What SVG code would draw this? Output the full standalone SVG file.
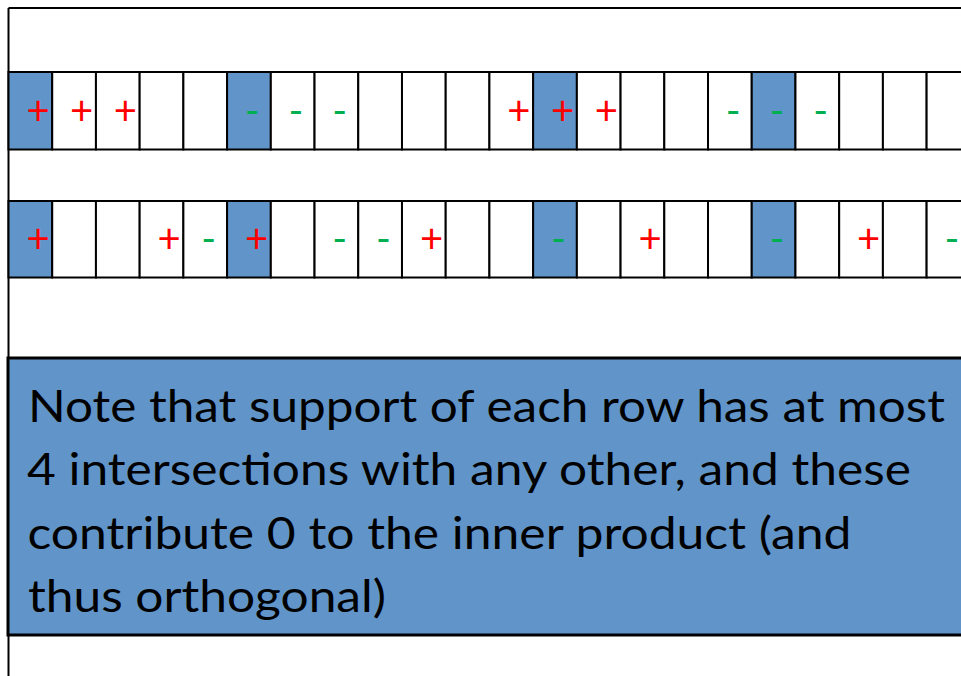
<svg xmlns="http://www.w3.org/2000/svg" width="961" height="676" viewBox="0 0 961 676">
<style>
.cell{fill:#ffffff;stroke:#000;stroke-width:2}
.hl{fill:#6195c9;stroke:#000;stroke-width:2}
.p{font-family:Lato,"Liberation Sans",sans-serif;font-size:40px;fill:#ff0000;text-anchor:middle}
.m{font-family:Lato,"Liberation Sans",sans-serif;font-size:40px;fill:#00b050;text-anchor:middle}
.note{font-family:Lato,"Open Sans","Liberation Sans",sans-serif;font-size:44px;fill:#000}
</style>
<rect x="0" y="0" width="961" height="676" fill="#ffffff"/>
<g id="frame" fill="none" stroke="#000" stroke-width="2">
<line x1="8.5" y1="8" x2="961" y2="8"/>
<line x1="8.5" y1="8" x2="8.5" y2="676"/>
</g>
<g id="connectors"/>
<g id="row1">
<g id="r1c0"><rect class="hl" x="8.50" y="72" width="43.72" height="77.5"/><text class="p" x="38.00" y="125">+</text></g>
<g id="r1c1"><rect class="cell" x="52.22" y="72" width="43.72" height="77.5"/><text class="p" x="81.72" y="125">+</text></g>
<g id="r1c2"><rect class="cell" x="95.94" y="72" width="43.72" height="77.5"/><text class="p" x="125.44" y="125">+</text></g>
<g id="r1c3"><rect class="cell" x="139.66" y="72" width="43.72" height="77.5"/></g>
<g id="r1c4"><rect class="cell" x="183.38" y="72" width="43.72" height="77.5"/></g>
<g id="r1c5"><rect class="hl" x="227.10" y="72" width="43.72" height="77.5"/><text class="m" x="252.30" y="125">-</text></g>
<g id="r1c6"><rect class="cell" x="270.82" y="72" width="43.72" height="77.5"/><text class="m" x="296.02" y="125">-</text></g>
<g id="r1c7"><rect class="cell" x="314.54" y="72" width="43.72" height="77.5"/><text class="m" x="339.74" y="125">-</text></g>
<g id="r1c8"><rect class="cell" x="358.26" y="72" width="43.72" height="77.5"/></g>
<g id="r1c9"><rect class="cell" x="401.98" y="72" width="43.72" height="77.5"/></g>
<g id="r1c10"><rect class="cell" x="445.70" y="72" width="43.72" height="77.5"/></g>
<g id="r1c11"><rect class="cell" x="489.42" y="72" width="43.72" height="77.5"/><text class="p" x="518.92" y="125">+</text></g>
<g id="r1c12"><rect class="hl" x="533.14" y="72" width="43.72" height="77.5"/><text class="p" x="562.64" y="125">+</text></g>
<g id="r1c13"><rect class="cell" x="576.86" y="72" width="43.72" height="77.5"/><text class="p" x="606.36" y="125">+</text></g>
<g id="r1c14"><rect class="cell" x="620.58" y="72" width="43.72" height="77.5"/></g>
<g id="r1c15"><rect class="cell" x="664.30" y="72" width="43.72" height="77.5"/></g>
<g id="r1c16"><rect class="cell" x="708.02" y="72" width="43.72" height="77.5"/><text class="m" x="733.22" y="125">-</text></g>
<g id="r1c17"><rect class="hl" x="751.74" y="72" width="43.72" height="77.5"/><text class="m" x="776.94" y="125">-</text></g>
<g id="r1c18"><rect class="cell" x="795.46" y="72" width="43.72" height="77.5"/><text class="m" x="820.66" y="125">-</text></g>
<g id="r1c19"><rect class="cell" x="839.18" y="72" width="43.72" height="77.5"/></g>
<g id="r1c20"><rect class="cell" x="882.90" y="72" width="43.72" height="77.5"/></g>
<g id="r1c21"><rect class="cell" x="926.62" y="72" width="43.72" height="77.5"/></g>
</g>
<g id="row2">
<g id="r2c0"><rect class="hl" x="8.50" y="201" width="43.72" height="76.5"/><text class="p" x="38.00" y="253">+</text></g>
<g id="r2c1"><rect class="cell" x="52.22" y="201" width="43.72" height="76.5"/></g>
<g id="r2c2"><rect class="cell" x="95.94" y="201" width="43.72" height="76.5"/></g>
<g id="r2c3"><rect class="cell" x="139.66" y="201" width="43.72" height="76.5"/><text class="p" x="169.16" y="253">+</text></g>
<g id="r2c4"><rect class="cell" x="183.38" y="201" width="43.72" height="76.5"/><text class="m" x="208.58" y="253">-</text></g>
<g id="r2c5"><rect class="hl" x="227.10" y="201" width="43.72" height="76.5"/><text class="p" x="256.60" y="253">+</text></g>
<g id="r2c6"><rect class="cell" x="270.82" y="201" width="43.72" height="76.5"/></g>
<g id="r2c7"><rect class="cell" x="314.54" y="201" width="43.72" height="76.5"/><text class="m" x="339.74" y="253">-</text></g>
<g id="r2c8"><rect class="cell" x="358.26" y="201" width="43.72" height="76.5"/><text class="m" x="383.46" y="253">-</text></g>
<g id="r2c9"><rect class="cell" x="401.98" y="201" width="43.72" height="76.5"/><text class="p" x="431.48" y="253">+</text></g>
<g id="r2c10"><rect class="cell" x="445.70" y="201" width="43.72" height="76.5"/></g>
<g id="r2c11"><rect class="cell" x="489.42" y="201" width="43.72" height="76.5"/></g>
<g id="r2c12"><rect class="hl" x="533.14" y="201" width="43.72" height="76.5"/><text class="m" x="558.34" y="253">-</text></g>
<g id="r2c13"><rect class="cell" x="576.86" y="201" width="43.72" height="76.5"/></g>
<g id="r2c14"><rect class="cell" x="620.58" y="201" width="43.72" height="76.5"/><text class="p" x="650.08" y="253">+</text></g>
<g id="r2c15"><rect class="cell" x="664.30" y="201" width="43.72" height="76.5"/></g>
<g id="r2c16"><rect class="cell" x="708.02" y="201" width="43.72" height="76.5"/></g>
<g id="r2c17"><rect class="hl" x="751.74" y="201" width="43.72" height="76.5"/><text class="m" x="776.94" y="253">-</text></g>
<g id="r2c18"><rect class="cell" x="795.46" y="201" width="43.72" height="76.5"/></g>
<g id="r2c19"><rect class="cell" x="839.18" y="201" width="43.72" height="76.5"/><text class="p" x="868.68" y="253">+</text></g>
<g id="r2c20"><rect class="cell" x="882.90" y="201" width="43.72" height="76.5"/></g>
<g id="r2c21"><rect class="cell" x="926.62" y="201" width="43.72" height="76.5"/><text class="m" x="951.82" y="253">-</text></g>
</g>
<g id="note">
<rect x="8" y="358" width="965" height="277" fill="#6195c9" stroke="#000" stroke-width="3"/>
<text class="note" x="28" y="421.5" textLength="917" lengthAdjust="spacingAndGlyphs">Note that support of each row has at most</text>
<text class="note" x="27" y="485" textLength="884" lengthAdjust="spacingAndGlyphs">4 intersections with any other, and these</text>
<text class="note" x="27.5" y="548.5" textLength="824" lengthAdjust="spacingAndGlyphs">contribute 0 to the inner product (and</text>
<text class="note" x="28" y="612" textLength="358" lengthAdjust="spacingAndGlyphs">thus orthogonal)</text>
</g>
</svg>
